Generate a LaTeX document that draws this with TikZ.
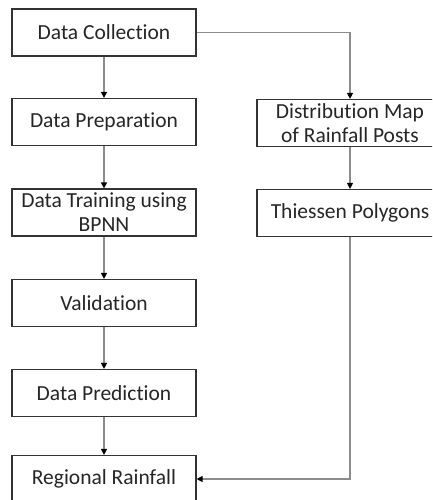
\documentclass[tikz,border=0pt]{standalone}
\usepackage{fontspec}
\setmainfont{Carlito}[Ligatures=NoCommon,RawFeature={-liga;-clig}]
\usetikzlibrary{arrows.meta}
\tikzset{
  stepbox/.style={draw=black!80, line width=1.2pt, fill=white, rectangle,
    minimum width=184pt, minimum height=47pt, inner sep=0pt, align=center,
    font=\fontsize{21.5}{24}\selectfont, text=black!85},
  link/.style={draw=black!45, line width=1.2pt,
    -{Triangle[length=6pt,width=6pt,fill=black,color=black]}}
}
\begin{document}
\begin{tikzpicture}[x=1pt,y=-1pt]
  \useasboundingbox (0,0) rectangle (432,500);
  \clip (0,0) rectangle (432,500);
  \fill[white] (0,0) rectangle (432,500);

  % main chain on the left
  \node[stepbox] (dc)   at (104,32.5)  {Data Collection};
  \node[stepbox] (dp)   at (104,122)   {Data Preparation};
  \node[stepbox] (dt)   at (104,212.5) {Data Training using\\BPNN};
  \node[stepbox] (val)  at (104,303)   {Validation};
  \node[stepbox] (pred) at (104,393)   {Data Prediction};
  \node[stepbox] (reg)  at (104,479)   {Regional Rainfall};

  % spatial branch on the right
  \node[stepbox, minimum width=186pt] (dist) at (350,123) {Distribution Map\\of Rainfall Posts};
  \node[stepbox, minimum width=186pt] (thi)  at (350,213) {Thiessen Polygons};

  % connectors
  \draw[link] (dc) -- (dp);
  \draw[link] (dp) -- (dt);
  \draw[link] (dt) -- (val);
  \draw[link] (val) -- (pred);
  \draw[link] (pred) -- (reg);
  \draw[link] (dc.east) -| (dist.north);
  \draw[link] (dist) -- (thi);
  \draw[link] (thi.south) |- (reg.east);
\end{tikzpicture}
\end{document}
